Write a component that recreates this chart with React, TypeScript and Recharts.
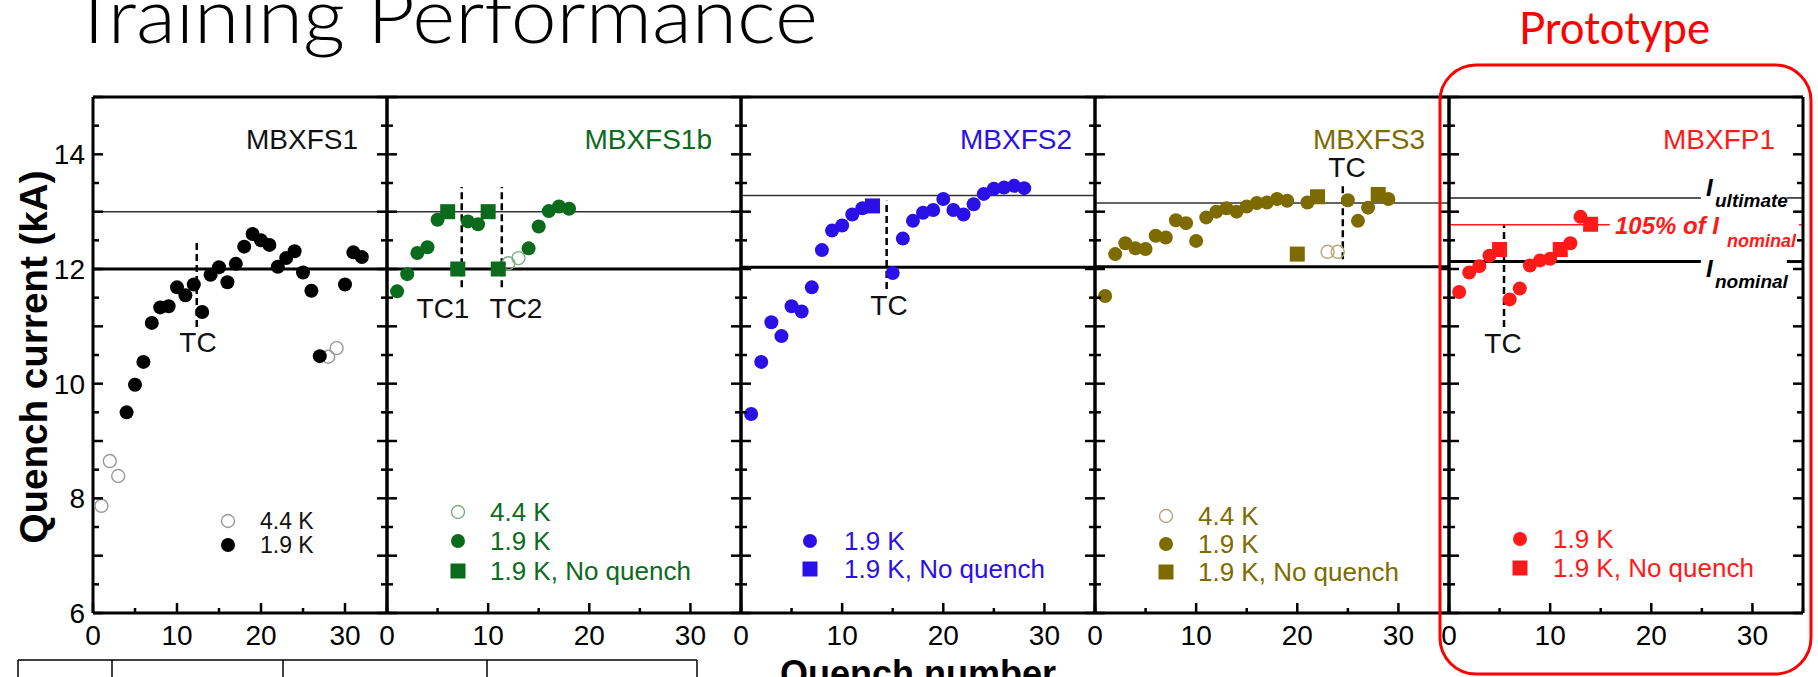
import { ReferenceLine, Scatter, ScatterChart, XAxis, YAxis } from "recharts";

const FONT = "'Liberation Sans', Arial, Helvetica, sans-serif";
const GREEN = "#0b6b1c";
const BLUE = "#2a10e6";
const OLIVE = "#7d6b00";
const RED = "#ff1a1a";
const PAD = 60;

// axes
const xTicks = [0, 5, 10, 15, 20, 25, 30, 35];
const xLabels = [0, 10, 20, 30];
const yTicks = [6, 6.5, 7, 7.5, 8, 8.5, 9, 9.5, 10, 10.5, 11, 11.5, 12, 12.5, 13, 13.5, 14, 14.5, 15];
const yLabels = [6, 8, 10, 12, 14];

// MBXFS1
const fs1Quench = [4, 5, 6, 7, 8, 9, 10, 11, 12, 13, 14, 15, 16, 17, 18, 19, 20, 21, 22, 23, 24, 25, 26, 27, 30, 31, 32];
const fs1Current = [9.5, 9.98, 10.38, 11.06, 11.33, 11.35, 11.68, 11.54, 11.73, 11.25, 11.9, 12.03, 11.77, 12.09, 12.39, 12.61, 12.5, 12.42, 12.04, 12.19, 12.31, 11.94, 11.62, 10.48, 11.73, 12.29, 12.21];
const fs1HotQuench = [1, 2, 3, 28, 29];
const fs1HotCurrent = [7.87, 8.65, 8.39, 10.47, 10.62];

// MBXFS1b
const fs1bQuench = [1, 2, 3, 4, 5, 8, 9, 14, 15, 16, 17, 18];
const fs1bCurrent = [11.61, 11.91, 12.28, 12.38, 12.86, 12.83, 12.78, 12.36, 12.74, 13.01, 13.09, 13.05];
const fs1bNqQuench = [6, 7, 10, 11];
const fs1bNqCurrent = [13.0, 12.0, 13.0, 12.0];
const fs1bHotQuench = [12, 13];
const fs1bHotCurrent = [12.1, 12.19];

// MBXFS2
const fs2Quench = [1, 2, 3, 4, 5, 6, 7, 8, 9, 10, 11, 12, 15, 16, 17, 18, 19, 20, 21, 22, 23, 24, 25, 26, 27, 28];
const fs2Current = [9.47, 10.38, 11.07, 10.83, 11.35, 11.26, 11.68, 12.33, 12.67, 12.76, 12.95, 13.06, 11.93, 12.53, 12.84, 12.98, 13.03, 13.22, 13.03, 12.95, 13.13, 13.31, 13.4, 13.42, 13.45, 13.41];
const fs2NqQuench = [13];
const fs2NqCurrent = [13.1];

// MBXFS3
const fs3Quench = [1, 2, 3, 4, 5, 6, 7, 8, 9, 10, 11, 12, 13, 14, 15, 16, 17, 18, 19, 21, 25, 26, 27, 29];
const fs3Current = [11.53, 12.26, 12.45, 12.36, 12.35, 12.58, 12.55, 12.85, 12.8, 12.49, 12.9, 13.0, 13.06, 13.0, 13.09, 13.15, 13.16, 13.22, 13.19, 13.16, 13.2, 12.84, 13.07, 13.22];
const fs3NqQuench = [20, 22, 28];
const fs3NqCurrent = [12.26, 13.26, 13.3];
const fs3HotQuench = [23, 24];
const fs3HotCurrent = [12.3, 12.3];

// MBXFP1
const fp1Quench = [1, 2, 3, 4, 6, 7, 8, 9, 10, 12, 13];
const fp1Current = [11.6, 11.94, 12.05, 12.23, 11.47, 11.66, 12.06, 12.15, 12.18, 12.45, 12.91];
const fp1NqQuench = [5, 11, 14];
const fp1NqCurrent = [12.34, 12.34, 12.78];

type Pt = { x: number; y: number };
const zip = (n: number[], c: number[]): Pt[] => n.map((x, k) => ({ x, y: c[k] }));

const frame = { stroke: "#000", strokeWidth: 3 };
const DOT_R = 7;
const RING_R = 6.5;
const BOX = 15;

function bottomTick(labels: boolean) {
  return (p: any) => {
    const v = p.payload.value;
    const len = v % 10 === 0 ? 10 : 5;
    return (
      <g>
        <line x1={p.x} x2={p.x} y1={p.y} y2={p.y - len} stroke="#000" strokeWidth={2.5} />
        {labels && xLabels.includes(v) && (
          <text x={p.x} y={p.y + 22} dy="0.36em" textAnchor="middle" fontSize={28} fontFamily={FONT} fill="#000">
            {v}
          </text>
        )}
      </g>
    );
  };
}

const topTick = (p: any) => {
  const v = p.payload.value;
  const len = v % 10 === 0 ? 10 : 5;
  return <line x1={p.x} x2={p.x} y1={p.y} y2={p.y + len} stroke="#000" strokeWidth={2.5} />;
};

function leftTick(labels: boolean) {
  return (p: any) => {
    const v = p.payload.value;
    const len = Number.isInteger(v) ? 10 : 6;
    return (
      <g>
        <line x1={p.x} x2={p.x + len} y1={p.y} y2={p.y} stroke="#000" strokeWidth={2.5} />
        {labels && yLabels.includes(v) && (
          <text x={p.x - 8} y={p.y} dy="0.36em" textAnchor="end" fontSize={28} fontFamily={FONT} fill="#000">
            {v}
          </text>
        )}
      </g>
    );
  };
}

const rightTick = (p: any) => {
  const v = p.payload.value;
  const len = Number.isInteger(v) ? 10 : 6;
  return <line x1={p.x} x2={p.x - len} y1={p.y} y2={p.y} stroke="#000" strokeWidth={2.5} />;
};

const dot = (c: string) => (p: any) => <circle cx={p.cx} cy={p.cy} r={DOT_R} fill={c} />;
const ring = (c: string) => (p: any) => <circle cx={p.cx} cy={p.cy} r={RING_R} fill="none" stroke={c} strokeWidth={1.4} />;
const box = (c: string) => (p: any) => <rect x={p.cx - BOX / 2} y={p.cy - BOX / 2} width={BOX} height={BOX} fill={c} />;

type Ref = { y: number; x0?: number; x1?: number; w: number; c: string };
type Tc = { x: number; y0: number; y1: number };
type PanelProps = {
  name: string;
  left: number;
  right: number;
  yLabelsOn?: boolean;
  color: string;
  hot?: Pt[];
  hotColor?: string;
  quench: Pt[];
  noQuench?: Pt[];
  refs: Ref[];
  tcs: Tc[];
};

function Panel({ left, right, yLabelsOn, color, hot, hotColor, quench, noQuench, refs, tcs }: PanelProps) {
  const w = right - left;
  return (
    <div style={{ position: "absolute", left: left - PAD, top: 0 }}>
      <ScatterChart width={w + 2 * PAD} height={677} margin={{ top: 96, right: PAD - 1, bottom: 0, left: 0 }}>
        <XAxis type="number" dataKey="x" domain={[0, 35]} ticks={xTicks} interval={0} height={64}
          tickSize={0} tickMargin={0} tickLine={false} axisLine={frame} tick={bottomTick(true)} allowDataOverflow />
        <XAxis xAxisId="top" orientation="top" type="number" domain={[0, 35]} ticks={xTicks} interval={0} height={1}
          tickSize={0} tickMargin={0} tickLine={false} axisLine={frame} tick={topTick} allowDataOverflow />
        <YAxis type="number" dataKey="y" domain={[6, 15]} ticks={yTicks} interval={0} width={PAD}
          tickSize={0} tickMargin={0} tickLine={false} axisLine={frame} tick={leftTick(!!yLabelsOn)} allowDataOverflow />
        <YAxis yAxisId="right" orientation="right" type="number" domain={[6, 15]} ticks={yTicks} interval={0} width={1}
          tickSize={0} tickMargin={0} tickLine={false} axisLine={frame} tick={rightTick} allowDataOverflow />
        {refs.map((r, k) =>
          r.x0 === undefined ? (
            <ReferenceLine key={"r" + k} y={r.y} stroke={r.c} strokeWidth={r.w} />
          ) : (
            <ReferenceLine key={"r" + k} segment={[{ x: r.x0, y: r.y }, { x: r.x1, y: r.y }]} stroke={r.c} strokeWidth={r.w} />
          )
        )}
        {tcs.map((t, k) => (
          <ReferenceLine key={"t" + k} segment={[{ x: t.x, y: t.y0 }, { x: t.x, y: t.y1 }]}
            stroke="#000" strokeWidth={2.5} strokeDasharray="7 4" />
        ))}
        {hot && <Scatter data={hot} shape={ring(hotColor || color)} isAnimationActive={false} />}
        <Scatter data={quench} shape={dot(color)} isAnimationActive={false} />
        {noQuench && <Scatter data={noQuench} shape={box(color)} isAnimationActive={false} />}
      </ScatterChart>
    </div>
  );
}

const panels: PanelProps[] = [
  {
    name: "MBXFS1", left: 93, right: 387, yLabelsOn: true, color: "#000", hotColor: "#999",
    hot: zip(fs1HotQuench, fs1HotCurrent), quench: zip(fs1Quench, fs1Current),
    refs: [{ y: 13.0, w: 1.5, c: "#333" }, { y: 12.0, w: 3, c: "#000" }],
    tcs: [{ x: 12.35, y0: 10.99, y1: 12.49 }],
  },
  {
    name: "MBXFS1b", left: 387, right: 741, color: GREEN, hotColor: "#7fae85",
    hot: zip(fs1bHotQuench, fs1bHotCurrent), quench: zip(fs1bQuench, fs1bCurrent), noQuench: zip(fs1bNqQuench, fs1bNqCurrent),
    refs: [{ y: 13.0, w: 1.5, c: "#333" }, { y: 12.0, w: 3, c: "#000" }],
    tcs: [{ x: 7.39, y0: 11.68, y1: 13.43 }, { x: 11.35, y0: 11.68, y1: 13.43 }],
  },
  {
    name: "MBXFS2", left: 741, right: 1095, color: BLUE,
    quench: zip(fs2Quench, fs2Current), noQuench: zip(fs2NqQuench, fs2NqCurrent),
    refs: [{ y: 13.28, w: 1.5, c: "#333" }, { y: 12.03, w: 3, c: "#000" }],
    tcs: [{ x: 14.4, y0: 11.65, y1: 13.19 }],
  },
  {
    name: "MBXFS3", left: 1095, right: 1449, color: OLIVE, hotColor: "#b5a77a",
    hot: zip(fs3HotQuench, fs3HotCurrent), quench: zip(fs3Quench, fs3Current), noQuench: zip(fs3NqQuench, fs3NqCurrent),
    refs: [{ y: 13.15, w: 1.5, c: "#333" }, { y: 12.04, w: 3, c: "#000" }],
    tcs: [{ x: 24.5, y0: 12.17, y1: 13.47 }],
  },
  {
    name: "MBXFP1", left: 1449, right: 1803, color: RED,
    quench: zip(fp1Quench, fp1Current), noQuench: zip(fp1NqQuench, fp1NqCurrent),
    refs: [
      { y: 13.24, x0: 0, x1: 24.9, w: 1.5, c: "#222" },
      { y: 13.24, x0: 33.4, x1: 35, w: 1.5, c: "#222" },
      { y: 12.77, x0: 0, x1: 15.9, w: 1.5, c: RED },
      { y: 12.77, x0: 34.6, x1: 35, w: 1.5, c: RED },
      { y: 12.13, x0: 0, x1: 24.9, w: 3, c: "#000" },
      { y: 12.13, x0: 33.4, x1: 35, w: 3, c: "#000" },
    ],
    tcs: [{ x: 5.44, y0: 10.99, y1: 12.76 }],
  },
];

type LegendRow = { kind: "ring" | "dot" | "box"; label: string; y: number };
type LegendSpec = { mx: number; tx: number; size: number; color: string; ringColor?: string; textColor: string; rows: LegendRow[] };

const legends: LegendSpec[] = [
  { mx: 228, tx: 260, size: 23, color: "#000", ringColor: "#999", textColor: "#111",
    rows: [{ kind: "ring", label: "4.4 K", y: 521 }, { kind: "dot", label: "1.9 K", y: 545 }] },
  { mx: 458, tx: 490, size: 26, color: GREEN, ringColor: "#7fae85", textColor: GREEN,
    rows: [{ kind: "ring", label: "4.4 K", y: 512 }, { kind: "dot", label: "1.9 K", y: 541 }, { kind: "box", label: "1.9 K, No quench", y: 571 }] },
  { mx: 810, tx: 844, size: 26, color: BLUE, textColor: BLUE,
    rows: [{ kind: "dot", label: "1.9 K", y: 541 }, { kind: "box", label: "1.9 K, No quench", y: 569 }] },
  { mx: 1166, tx: 1198, size: 26, color: OLIVE, ringColor: "#b5a77a", textColor: OLIVE,
    rows: [{ kind: "ring", label: "4.4 K", y: 516 }, { kind: "dot", label: "1.9 K", y: 544 }, { kind: "box", label: "1.9 K, No quench", y: 572 }] },
  { mx: 1520, tx: 1553, size: 26, color: RED, textColor: RED,
    rows: [{ kind: "dot", label: "1.9 K", y: 539 }, { kind: "box", label: "1.9 K, No quench", y: 568 }] },
];

const names = [
  { text: "MBXFS1", x: 358, c: "#111" },
  { text: "MBXFS1b", x: 712, c: GREEN },
  { text: "MBXFS2", x: 1072, c: BLUE },
  { text: "MBXFS3", x: 1425, c: OLIVE },
  { text: "MBXFP1", x: 1775, c: RED },
];

const tcLabels = [
  { text: "TC", x: 198, y: 342 },
  { text: "TC1", x: 443, y: 308 },
  { text: "TC2", x: 516, y: 308 },
  { text: "TC", x: 889, y: 305 },
  { text: "TC", x: 1347, y: 167 },
  { text: "TC", x: 1503, y: 343 },
];

const tableCols = [18, 112, 283, 487, 697];

function Overlay() {
  const bi = { fontFamily: FONT, fontWeight: 700, fontStyle: "italic" } as const;
  return (
    <svg width={1818} height={677} style={{ position: "absolute", left: 0, top: 0, pointerEvents: "none" }}>
      <text x={70} y={43} fontFamily="Lato, 'Open Sans', sans-serif" fontWeight={300} fontSize={76}
        textLength={748} lengthAdjust="spacingAndGlyphs" fill="#000">Training Performance</text>
      <text x={1519} y={44} fontFamily="Lato, 'Open Sans', sans-serif" fontSize={45}
        textLength={191} lengthAdjust="spacingAndGlyphs" fill="#ff0000">Prototype</text>
      <rect x={1440} y={65} width={371} height={609} rx={36} fill="none" stroke="#ff0000" strokeWidth={3} />

      <text transform="translate(47,357) rotate(-90)" textAnchor="middle" fontFamily={FONT} fontWeight={700}
        fontSize={39} textLength={373} lengthAdjust="spacingAndGlyphs" fill="#000">Quench current (kA)</text>
      <text x={918} y={686} textAnchor="middle" fontFamily={FONT} fontWeight={700} fontSize={36} fill="#000">Quench number</text>

      {names.map((n) => (
        <text key={n.text} x={n.x} y={149} textAnchor="end" fontFamily={FONT} fontSize={28} fill={n.c}>{n.text}</text>
      ))}
      {tcLabels.map((t, k) => (
        <text key={k} x={t.x} y={t.y} dy="0.36em" textAnchor="middle" fontFamily={FONT} fontSize={28} fill="#111">{t.text}</text>
      ))}

      {legends.map((l, k) => (
        <g key={k}>
          {l.rows.map((r) => (
            <g key={r.label}>
              {r.kind === "ring" && <circle cx={l.mx} cy={r.y} r={RING_R} fill="none" stroke={l.ringColor} strokeWidth={1.4} />}
              {r.kind === "dot" && <circle cx={l.mx} cy={r.y} r={DOT_R} fill={l.color} />}
              {r.kind === "box" && <rect x={l.mx - BOX / 2} y={r.y - BOX / 2} width={BOX} height={BOX} fill={l.color} />}
              <text x={l.tx} y={r.y} dy="0.36em" fontFamily={FONT} fontSize={l.size} fill={l.textColor}>{r.label}</text>
            </g>
          ))}
        </g>
      ))}

      <text x={1706} y={196} {...bi} fontSize={24} fill="#000">I</text>
      <text x={1715} y={207} {...bi} fontSize={19} fill="#000">ultimate</text>
      <text x={1615} y={234} {...bi} fontSize={24} fill={RED}>105% of I</text>
      <text x={1727} y={247} {...bi} fontSize={18} fill={RED}>nominal</text>
      <text x={1706} y={277} {...bi} fontSize={24} fill="#000">I</text>
      <text x={1715} y={288} {...bi} fontSize={19} fill="#000">nominal</text>

      <line x1={tableCols[0]} x2={tableCols[tableCols.length - 1]} y1={660} y2={660} stroke="#000" strokeWidth={1.5} />
      {tableCols.map((x) => (
        <line key={x} x1={x} x2={x} y1={660} y2={677} stroke="#000" strokeWidth={1.5} />
      ))}
    </svg>
  );
}

export default function App() {
  return (
    <div style={{ position: "absolute", left: 0, top: 0, width: 1818, height: 677, overflow: "hidden", background: "#fff" }}>
      {panels.map((p) => (
        <Panel key={p.name} {...p} />
      ))}
      <Overlay />
    </div>
  );
}
